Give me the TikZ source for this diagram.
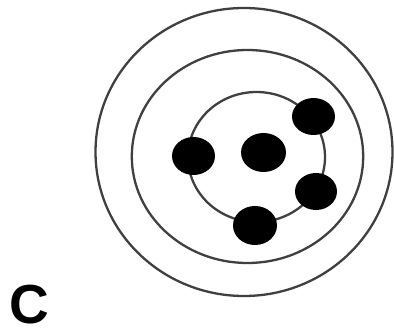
\documentclass[tikz,border=0pt]{standalone}
\usepackage{fontspec}
\setmainfont{Liberation Sans}
\begin{document}
\begin{tikzpicture}[x=1pt,y=-1pt,
  ring/.style={draw=black!75,line width=2.3pt},
  dot/.style={fill=black}]
\useasboundingbox (0,0) rectangle (394,331);
\fill[white] (0,0) rectangle (394,331);
\draw[ring] (244,152) ellipse [x radius=148.5,y radius=144];
\draw[ring] (247.5,156.5) ellipse [x radius=115.7,y radius=106.5];
\draw[ring] (256.5,157) ellipse [x radius=68.5,y radius=65];
\fill[dot] (193.5,156) ellipse [x radius=21.5,y radius=19];
\fill[dot] (263.5,152.5) ellipse [x radius=22.5,y radius=19.5];
\fill[dot] (313.5,116.5) ellipse [x radius=21.5,y radius=18.5];
\fill[dot] (316,191.5) ellipse [x radius=21,y radius=18.5];
\fill[dot] (255,225.5) ellipse [x radius=22,y radius=19.5];
\node[anchor=base west,inner sep=0pt,text depth=0pt,text height=40pt,font=\fontsize{55}{60}\selectfont\bfseries] (lbl) at (9,324) {C};
\end{tikzpicture}
\end{document}
